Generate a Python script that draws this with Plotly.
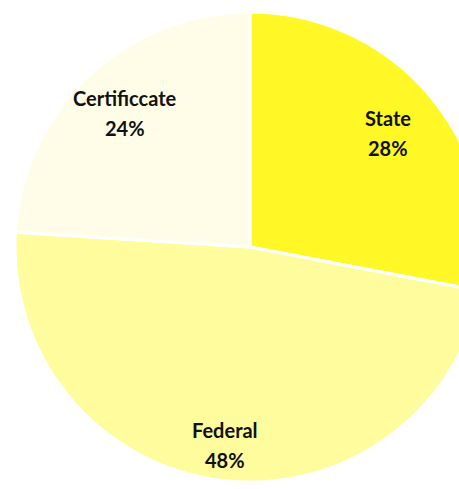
import math
import plotly.graph_objects as go

# ---- data ----
categories = ["State", "Federal", "Certificcate"]
values = [28, 48, 24]
colors = ["#FFF826", "#FFFC9E", "#FFFDE8"]
label_radius = [0.76, 0.85, 0.78]   # label distance as fraction of radius

# ---- geometry (pixels) ----
W, H = 500, 489
cx, cy, R = 250, 247, 235

fig = go.Figure(go.Pie(
    labels=categories,
    values=values,
    sort=False,
    direction="clockwise",
    rotation=0,
    marker=dict(colors=colors, line=dict(color="white", width=3)),
    textinfo="none",
    hoverinfo="label+percent",
    showlegend=False,
    domain=dict(x=[(cx - R) / W, (cx + R) / W],
                y=[(H - cy - R) / H, (H - cy + R) / H]),
))

total = sum(values)
cum = 0
annotations = []
font = dict(family="Lato, 'Open Sans', sans-serif", size=20, color="#111111")
for name, v, rf in zip(categories, values, label_radius):
    mid = (cum + v / 2) / total * 2 * math.pi
    cum += v
    px = cx + rf * R * math.sin(mid)
    py = cy - rf * R * math.cos(mid)
    pct = f"{round(v / total * 100)}%"
    for txt, off in ((name, -15), (pct, 15)):
        annotations.append(dict(
            x=px / W, y=1 - (py + off) / H, xref="paper", yref="paper",
            text=f"<b>{txt}</b>", showarrow=False, font=font,
            xanchor="center", yanchor="middle"))

fig.update_layout(
    width=W, height=H,
    margin=dict(l=0, r=0, t=0, b=0),
    paper_bgcolor="white", plot_bgcolor="white",
    annotations=annotations,
)

fig.write_html(
    "out.html",
    config={"displayModeBar": False},
    post_script="document.body.style.margin='0';document.body.style.overflow='hidden';document.documentElement.style.overflow='hidden';",
)
